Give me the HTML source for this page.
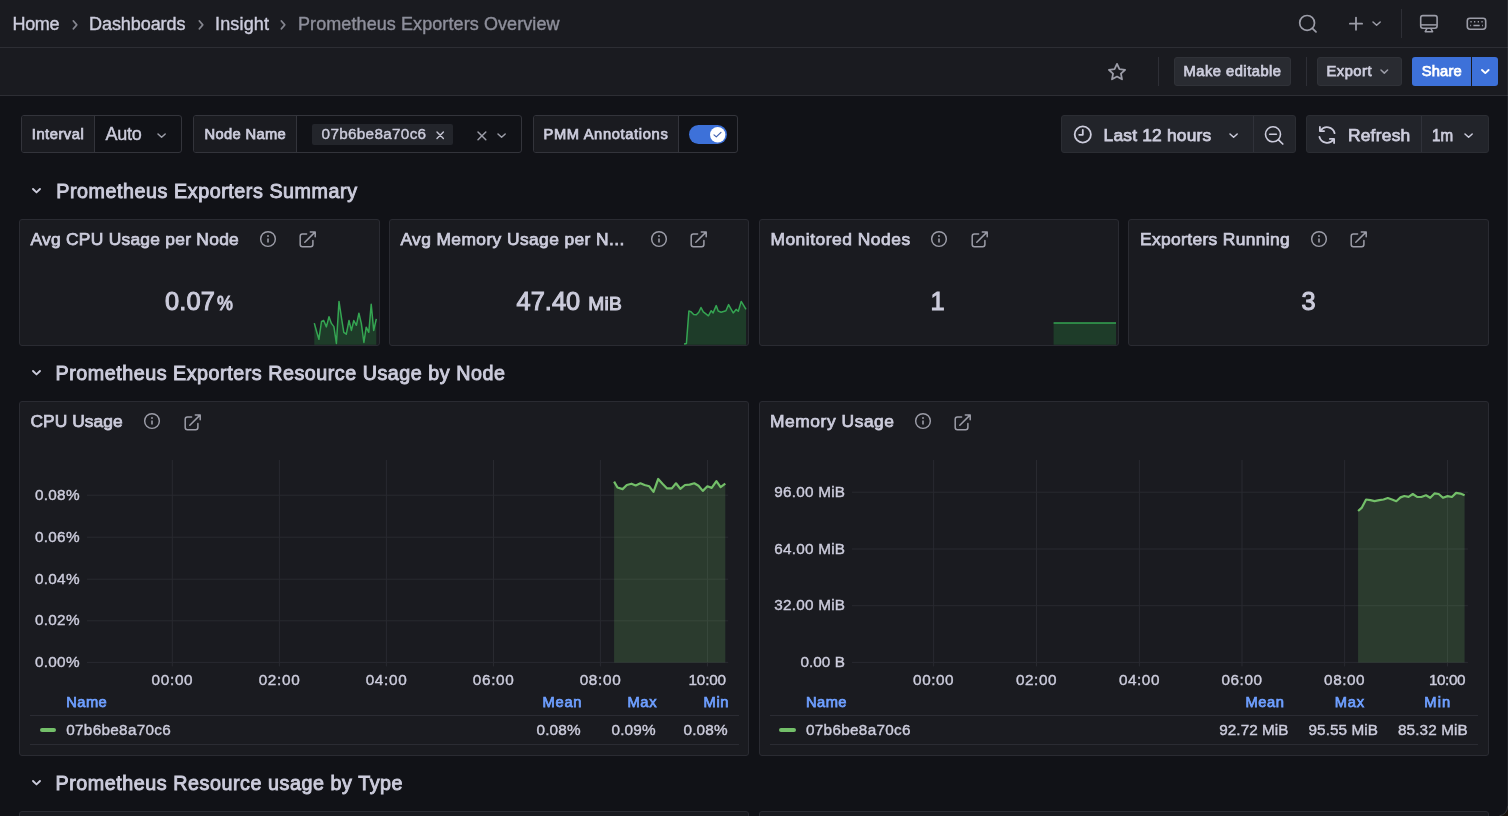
<!DOCTYPE html><html lang="en"><head><meta charset="utf-8"><title>Prometheus Exporters Overview - Dashboards - Grafana</title>
<style>
*{box-sizing:border-box;margin:0;padding:0}
html,body{width:1508px;height:816px;overflow:hidden;background:#111217}
body{position:relative;font-family:"Liberation Sans",sans-serif;color:#ccccdc;will-change:transform}
.abs,.t,svg{position:absolute}
.t{white-space:nowrap;line-height:1;display:block;-webkit-text-stroke:0.4px currentColor}
.m{-webkit-text-stroke:0.75px currentColor}
.s{-webkit-text-stroke:1px currentColor}
.bar{left:0;width:1508px;background:#1a1b20;border-bottom:1px solid #2d2e34}
.vdiv{width:1px;background:#2e2f36}
.btn{border-radius:3px;background:#292b31;border:1px solid #303238}
.box{border:1px solid #33343b;border-radius:3px;background:#111217}
.lbl{background:#1a1b20;border-right:1px solid #33343b;border-radius:2px 0 0 2px}
.panel{background:#1a1b20;border:1px solid #2a2b32;border-radius:3px}
.tool{background:#22242a;border:1px solid #2b2d33;border-radius:3px}
.hl{height:1px;background:#2b2c33}
svg{overflow:visible}
</style></head><body>
<header class="abs bar" style="top:0;height:48px"></header>
<div class="abs bar" style="top:48px;height:48px"></div>
<nav aria-label="Breadcrumbs">
<span id="bc1" class="t" style="left:12.50px;top:15px;font-size:18px;letter-spacing:-0.339px;">Home</span>
<span id="bc2" class="t" style="left:89.00px;top:15px;font-size:18px;letter-spacing:-0.062px;">Dashboards</span>
<span id="bc3" class="t" style="left:215.00px;top:15px;font-size:18px;letter-spacing:0.159px;">Insight</span>
<span id="bc4" class="t" style="left:298.00px;top:15px;font-size:18px;letter-spacing:0.086px;color:#8e8f9b;">Prometheus Exporters Overview</span>
<svg style="left:70.5px;top:19px" width="8" height="11" viewBox="0 0 8 11"><path d="M2.3 1.9 L5.8 5.9 L2.3 9.9" fill="none" stroke="#85868f" stroke-width="1.6" stroke-linecap="round" stroke-linejoin="round"/></svg>
<svg style="left:196.5px;top:19px" width="8" height="11" viewBox="0 0 8 11"><path d="M2.3 1.9 L5.8 5.9 L2.3 9.9" fill="none" stroke="#85868f" stroke-width="1.6" stroke-linecap="round" stroke-linejoin="round"/></svg>
<svg style="left:279.2px;top:19px" width="8" height="11" viewBox="0 0 8 11"><path d="M2.3 1.9 L5.8 5.9 L2.3 9.9" fill="none" stroke="#85868f" stroke-width="1.6" stroke-linecap="round" stroke-linejoin="round"/></svg>
</nav>
<svg style="left:1297px;top:13px" width="22" height="22" viewBox="0 0 22 22"><circle cx="10.1" cy="9.9" r="7.4" fill="none" stroke="#9c9da8" stroke-width="1.7"/><path d="M15.4 15.3 L19.0 18.8" stroke="#9c9da8" stroke-width="1.8" stroke-linecap="round"/></svg>
<svg style="left:1347px;top:14px" width="18" height="18" viewBox="0 0 18 18"><path d="M9 3.6 V15.8 M2.9 9.7 H15.1" stroke="#9c9da8" stroke-width="1.8" stroke-linecap="round"/></svg>
<svg style="left:1372.00px;top:20.95px" width="9.2" height="5.3" viewBox="-1 -1 9.2 5.3"><path d="M0 0 L3.6 3.3 L7.2 0" fill="none" stroke="#9c9da8" stroke-width="1.5" stroke-linecap="round" stroke-linejoin="round"/></svg>
<div class="abs vdiv" style="left:1401px;top:9px;height:29px"></div>
<svg style="left:1418px;top:13px" width="22" height="22" viewBox="0 0 22 22"><rect x="2.7" y="2.6" width="16.4" height="12.6" rx="2.2" fill="none" stroke="#9c9da8" stroke-width="1.6"/><path d="M3 11.9 H18.8" stroke="#9c9da8" stroke-width="1.5"/><path d="M8.9 15.6 L7.2 18.7 H14.6 L12.9 15.6" fill="none" stroke="#9c9da8" stroke-width="1.5" stroke-linejoin="round" stroke-linecap="round"/></svg>
<svg style="left:1465px;top:15px" width="24" height="18" viewBox="0 0 24 18"><rect x="2.3" y="3.2" width="18.4" height="11" rx="2.6" fill="none" stroke="#9c9da8" stroke-width="1.6"/><path d="M5.4 6.7 h1.3 M9 6.7 h1.3 M12.7 6.7 h1.3 M16.4 6.7 h1.3 M5.2 10.5 h0.9 M8.4 10.5 h6.3 M17 10.5 h0.9" stroke="#9c9da8" stroke-width="1.5"/></svg>
<svg style="left:1106px;top:61px" width="22" height="22" viewBox="0 0 22 22"><path d="M11 2.9 L13.45 8.1 L19.1 8.8 L14.95 12.7 L16.0 18.3 L11 15.55 L6.0 18.3 L7.05 12.7 L2.9 8.8 L8.55 8.1 Z" fill="none" stroke="#9c9da8" stroke-width="1.8" stroke-linejoin="round"/></svg>
<div class="abs vdiv" style="left:1158px;top:57px;height:29px"></div>
<div class="abs btn" style="left:1174px;top:57px;width:117px;height:29px"></div>
<span id="b1" class="t m" style="left:1183.50px;top:64px;font-size:14.7px;letter-spacing:0.504px;">Make editable</span>
<div class="abs vdiv" style="left:1305.5px;top:57px;height:29px"></div>
<div class="abs btn" style="left:1316.5px;top:57px;width:85.5px;height:29px"></div>
<span id="b2" class="t m" style="left:1326.50px;top:64px;font-size:14.7px;letter-spacing:0.509px;">Export</span>
<svg style="left:1380.20px;top:69.05px" width="8.6" height="5.1" viewBox="-1 -1 8.6 5.1"><path d="M0 0 L3.3 3.1 L6.6 0" fill="none" stroke="#9c9da8" stroke-width="1.5" stroke-linecap="round" stroke-linejoin="round"/></svg>
<div class="abs" style="left:1411.75px;top:57px;width:59px;height:29px;background:#3d71d9;border-radius:3px 0 0 3px"></div>
<div class="abs" style="left:1471.5px;top:57px;width:26.5px;height:29px;background:#3d71d9;border-radius:0 3px 3px 0"></div>
<span id="b3" class="t m" style="left:1421.75px;top:64px;font-size:14.7px;letter-spacing:0.199px;color:#ffffff;">Share</span>
<svg style="left:1480.70px;top:69.05px" width="8.6" height="5.1" viewBox="-1 -1 8.6 5.1"><path d="M0 0 L3.3 3.1 L6.6 0" fill="none" stroke="#ffffff" stroke-width="1.9" stroke-linecap="round" stroke-linejoin="round"/></svg>
<div class="abs box" style="left:21px;top:115px;width:161px;height:38px"><div class="abs lbl" style="left:0;top:0;width:73px;height:36px"></div></div>
<span id="v1" class="t m" style="left:31.75px;top:127px;font-size:14.7px;letter-spacing:0.547px;">Interval</span>
<span id="v2" class="t" style="left:105.50px;top:125px;font-size:18px;letter-spacing:-0.260px;">Auto</span>
<svg style="left:156.90px;top:132.95px" width="9.2" height="5.3" viewBox="-1 -1 9.2 5.3"><path d="M0 0 L3.6 3.3 L7.2 0" fill="none" stroke="#9c9da8" stroke-width="1.5" stroke-linecap="round" stroke-linejoin="round"/></svg>
<div class="abs box" style="left:193px;top:115px;width:328.5px;height:38px"><div class="abs lbl" style="left:0;top:0;width:103px;height:36px"></div></div>
<span id="v3" class="t m" style="left:204.50px;top:127px;font-size:14.7px;letter-spacing:0.359px;">Node Name</span>
<div class="abs" style="left:312px;top:124px;width:141px;height:21px;background:#23252b;border-radius:2px"></div>
<span id="v4" class="t" style="left:321.60px;top:126px;font-size:15.3px;letter-spacing:0.297px;">07b6be8a70c6</span>
<svg style="left:435.90px;top:130.80px" width="8.4" height="8.4" viewBox="-4.2 -4.2 8.4 8.4"><path d="M-3.2 -3.2 L3.2 3.2 M3.2 -3.2 L-3.2 3.2" stroke="#c4c4d2" stroke-width="1.4" stroke-linecap="round"/></svg>
<svg style="left:477.00px;top:131.00px" width="9.8" height="9.8" viewBox="-4.9 -4.9 9.8 9.8"><path d="M-3.9 -3.9 L3.9 3.9 M3.9 -3.9 L-3.9 3.9" stroke="#9c9da8" stroke-width="1.5" stroke-linecap="round"/></svg>
<svg style="left:496.90px;top:133.05px" width="9.2" height="5.3" viewBox="-1 -1 9.2 5.3"><path d="M0 0 L3.6 3.3 L7.2 0" fill="none" stroke="#9c9da8" stroke-width="1.5" stroke-linecap="round" stroke-linejoin="round"/></svg>
<div class="abs box" style="left:532.5px;top:115px;width:205px;height:38px"><div class="abs lbl" style="left:0;top:0;width:145px;height:36px"></div></div>
<span id="v5" class="t m" style="left:543.50px;top:127px;font-size:14.7px;letter-spacing:0.652px;">PMM Annotations</span>
<div class="abs" role="switch" aria-checked="true" style="left:688.8px;top:124.8px;width:38.2px;height:19.6px;border-radius:10px;background:#3d71d9"></div>
<svg style="left:709.8px;top:127px" width="15.4" height="15.4" viewBox="0 0 15.4 15.4"><circle cx="7.7" cy="7.7" r="7.7" fill="#ffffff"/><path d="M4.0 7.9 L6.3 9.9 L11.0 5.4" fill="none" stroke="#3f5fb0" stroke-width="1.2" stroke-linecap="round" stroke-linejoin="round"/></svg>
<div class="abs tool" style="left:1061px;top:115px;width:235px;height:38px"><div class="abs" style="left:191px;top:0;width:1px;height:36px;background:#30323a"></div></div>
<svg style="left:1072px;top:124px" width="22" height="22" viewBox="0 0 22 22"><circle cx="10.8" cy="10.5" r="8.1" fill="none" stroke="#ccccdc" stroke-width="1.8"/><path d="M10.8 5.9 V10.8 H7.2" fill="none" stroke="#ccccdc" stroke-width="1.8" stroke-linecap="round" stroke-linejoin="round"/></svg>
<span id="tp1" class="t m" style="left:1103.60px;top:127px;font-size:17.4px;letter-spacing:0.192px;">Last 12 hours</span>
<svg style="left:1229.00px;top:133.25px" width="9.2" height="5.3" viewBox="-1 -1 9.2 5.3"><path d="M0 0 L3.6 3.3 L7.2 0" fill="none" stroke="#ccccdc" stroke-width="1.5" stroke-linecap="round" stroke-linejoin="round"/></svg>
<svg style="left:1263px;top:123.5px" width="22" height="22" viewBox="0 0 22 22"><circle cx="10" cy="10.3" r="7.5" fill="none" stroke="#ccccdc" stroke-width="1.6"/><path d="M6.6 10.3 H13.4" stroke="#ccccdc" stroke-width="1.6" stroke-linecap="round"/><path d="M15.5 15.8 L19.8 20" stroke="#ccccdc" stroke-width="1.7" stroke-linecap="round"/></svg>
<div class="abs tool" style="left:1306px;top:115px;width:182.5px;height:38px"><div class="abs" style="left:113.5px;top:0;width:1px;height:36px;background:#30323a"></div></div>
<svg style="left:1316px;top:123.5px" width="22" height="22" viewBox="0 0 22 22" fill="none" stroke="#ccccdc" stroke-width="1.8" stroke-linecap="round" stroke-linejoin="round"><path d="M18.6 9.2 A7.8 7.8 0 0 0 4.6 6.6"/><path d="M3.9 2.9 V7.1 H8.1"/><path d="M3.4 12.8 A7.8 7.8 0 0 0 17.4 15.4"/><path d="M18.1 19.1 V14.9 H13.9"/></svg>
<span id="tp2" class="t m" style="left:1347.90px;top:127px;font-size:17.4px;letter-spacing:0.249px;">Refresh</span>
<span id="tp3" class="t m" style="left:1431.70px;top:127px;font-size:17.4px;transform:scaleX(0.8729);transform-origin:0 0;">1m</span>
<svg style="left:1463.70px;top:133.25px" width="9.2" height="5.3" viewBox="-1 -1 9.2 5.3"><path d="M0 0 L3.6 3.3 L7.2 0" fill="none" stroke="#ccccdc" stroke-width="1.5" stroke-linecap="round" stroke-linejoin="round"/></svg>
<svg style="left:31.80px;top:188.30px" width="9.0" height="5.4" viewBox="-1 -1 9.0 5.4"><path d="M0 0 L3.5 3.4 L7.0 0" fill="none" stroke="#ccccdc" stroke-width="1.9" stroke-linecap="round" stroke-linejoin="round"/></svg><span id="r1" class="t m" style="left:56.25px;top:182px;font-size:19.7px;letter-spacing:0.562px;-webkit-text-stroke-width:0.9px;">Prometheus Exporters Summary</span>
<section class="abs panel" style="left:19px;top:218.5px;width:360.5px;height:127.5px"></section><span id="p1" class="t m" style="left:30.50px;top:231px;font-size:17.4px;letter-spacing:0.265px;">Avg CPU Usage per Node</span><svg style="left:259.00px;top:229.80px" width="18" height="18" viewBox="-9 -9 18 18"><circle r="7.35" fill="none" stroke="#9c9da8" stroke-width="1.45"/><path d="M0 -0.5 V3.6" stroke="#9c9da8" stroke-width="1.6" stroke-linecap="butt"/><circle cy="-3" r="0.95" fill="#9c9da8"/></svg><svg style="left:299.10px;top:231.00px" width="18" height="18" viewBox="0 0 18 18" fill="none" stroke="#9c9da8" stroke-width="1.5" stroke-linecap="round" stroke-linejoin="round"><path d="M7.6 3.1 H3.4 Q1.2 3.1 1.2 5.3 V13.6 Q1.2 15.8 3.4 15.8 H11.7 Q13.9 15.8 13.9 13.6 V9.6"/><path d="M5.8 11.2 L16 1.1 M11.3 0.9 H16.2 V5.8"/></svg>
<section class="abs panel" style="left:389px;top:218.5px;width:360.3px;height:127.5px"></section><span id="p2" class="t m" style="left:400.40px;top:231px;font-size:17.4px;letter-spacing:0.402px;">Avg Memory Usage per N...</span><svg style="left:649.90px;top:229.80px" width="18" height="18" viewBox="-9 -9 18 18"><circle r="7.35" fill="none" stroke="#9c9da8" stroke-width="1.45"/><path d="M0 -0.5 V3.6" stroke="#9c9da8" stroke-width="1.6" stroke-linecap="butt"/><circle cy="-3" r="0.95" fill="#9c9da8"/></svg><svg style="left:690.20px;top:231.00px" width="18" height="18" viewBox="0 0 18 18" fill="none" stroke="#9c9da8" stroke-width="1.5" stroke-linecap="round" stroke-linejoin="round"><path d="M7.6 3.1 H3.4 Q1.2 3.1 1.2 5.3 V13.6 Q1.2 15.8 3.4 15.8 H11.7 Q13.9 15.8 13.9 13.6 V9.6"/><path d="M5.8 11.2 L16 1.1 M11.3 0.9 H16.2 V5.8"/></svg>
<section class="abs panel" style="left:759px;top:218.5px;width:359.8px;height:127.5px"></section><span id="p3" class="t m" style="left:770.40px;top:231px;font-size:17.4px;letter-spacing:0.519px;">Monitored Nodes</span><svg style="left:930.00px;top:229.80px" width="18" height="18" viewBox="-9 -9 18 18"><circle r="7.35" fill="none" stroke="#9c9da8" stroke-width="1.45"/><path d="M0 -0.5 V3.6" stroke="#9c9da8" stroke-width="1.6" stroke-linecap="butt"/><circle cy="-3" r="0.95" fill="#9c9da8"/></svg><svg style="left:970.90px;top:231.00px" width="18" height="18" viewBox="0 0 18 18" fill="none" stroke="#9c9da8" stroke-width="1.5" stroke-linecap="round" stroke-linejoin="round"><path d="M7.6 3.1 H3.4 Q1.2 3.1 1.2 5.3 V13.6 Q1.2 15.8 3.4 15.8 H11.7 Q13.9 15.8 13.9 13.6 V9.6"/><path d="M5.8 11.2 L16 1.1 M11.3 0.9 H16.2 V5.8"/></svg>
<section class="abs panel" style="left:1128px;top:218.5px;width:360.7px;height:127.5px"></section><span id="p4" class="t m" style="left:1140.00px;top:231px;font-size:17.4px;letter-spacing:0.360px;">Exporters Running</span><svg style="left:1310.00px;top:229.80px" width="18" height="18" viewBox="-9 -9 18 18"><circle r="7.35" fill="none" stroke="#9c9da8" stroke-width="1.45"/><path d="M0 -0.5 V3.6" stroke="#9c9da8" stroke-width="1.6" stroke-linecap="butt"/><circle cy="-3" r="0.95" fill="#9c9da8"/></svg><svg style="left:1350.10px;top:231.00px" width="18" height="18" viewBox="0 0 18 18" fill="none" stroke="#9c9da8" stroke-width="1.5" stroke-linecap="round" stroke-linejoin="round"><path d="M7.6 3.1 H3.4 Q1.2 3.1 1.2 5.3 V13.6 Q1.2 15.8 3.4 15.8 H11.7 Q13.9 15.8 13.9 13.6 V9.6"/><path d="M5.8 11.2 L16 1.1 M11.3 0.9 H16.2 V5.8"/></svg>
<span id="s1" class="t s" style="left:164.90px;top:289px;font-size:25.4px;letter-spacing:0.159px;">0.07</span>
<span id="s1u" class="t s" style="left:217.00px;top:294px;font-size:19.6px;transform:scaleX(0.9118);transform-origin:0 0;">%</span>
<span id="s2" class="t s" style="left:516.60px;top:289px;font-size:25.4px;letter-spacing:0.013px;">47.40</span>
<span id="s2u" class="t s" style="left:588.20px;top:294px;font-size:19.2px;letter-spacing:0.277px;">MiB</span>
<span id="s3" class="t s" style="left:930.60px;top:289px;font-size:25.4px;">1</span>
<span id="s4" class="t s" style="left:1301.40px;top:289px;font-size:25.4px;">3</span>
<svg style="left:0;top:0" width="1508" height="816" viewBox="0 0 1508 816"><path d="M314.3 323.1 L316.6 331.5 L318.9 339.3 L321.5 321.5 L323.7 320.5 L326.4 326.9 L329.0 316.7 L331.4 323.4 L333.9 326.6 L336.4 343.5 L339.0 301.4 L341.5 318.0 L343.8 332.3 L346.3 334.2 L349.0 320.5 L351.4 330.4 L353.8 320.5 L356.4 325.3 L358.9 313.2 L361.3 323.4 L363.9 342.5 L366.2 327.2 L368.8 332.3 L371.2 304.3 L373.7 330.4 L376.3 318.9 L376.3 344.7 L314.3 344.7 Z" fill="rgba(41,156,70,0.26)"/><path d="M314.3 323.1 L316.6 331.5 L318.9 339.3 L321.5 321.5 L323.7 320.5 L326.4 326.9 L329.0 316.7 L331.4 323.4 L333.9 326.6 L336.4 343.5 L339.0 301.4 L341.5 318.0 L343.8 332.3 L346.3 334.2 L349.0 320.5 L351.4 330.4 L353.8 320.5 L356.4 325.3 L358.9 313.2 L361.3 323.4 L363.9 342.5 L366.2 327.2 L368.8 332.3 L371.2 304.3 L373.7 330.4 L376.3 318.9" fill="none" stroke="#35a552" stroke-width="1.5" stroke-linejoin="round"/></svg>
<svg style="left:0;top:0" width="1508" height="816" viewBox="0 0 1508 816"><path d="M684.1 344.1 L686.4 343.5 L688.9 311.0 L690.8 311.6 L693.7 314.5 L696.3 314.8 L698.8 312.3 L701.0 307.5 L703.3 311.9 L705.9 313.9 L708.4 315.8 L711.2 310.7 L713.1 312.9 L716.2 305.6 L718.2 311.0 L721.1 312.3 L723.5 311.5 L725.9 310.7 L728.6 304.6 L730.9 308.8 L733.2 312.9 L736.1 309.4 L738.3 311.3 L741.2 301.4 L743.6 305.4 L746.0 309.4 L746.0 344.7 L684.1 344.7 Z" fill="rgba(41,156,70,0.26)"/><path d="M684.1 344.1 L686.4 343.5 L688.9 311.0 L690.8 311.6 L693.7 314.5 L696.3 314.8 L698.8 312.3 L701.0 307.5 L703.3 311.9 L705.9 313.9 L708.4 315.8 L711.2 310.7 L713.1 312.9 L716.2 305.6 L718.2 311.0 L721.1 312.3 L723.5 311.5 L725.9 310.7 L728.6 304.6 L730.9 308.8 L733.2 312.9 L736.1 309.4 L738.3 311.3 L741.2 301.4 L743.6 305.4 L746.0 309.4" fill="none" stroke="#35a552" stroke-width="1.5" stroke-linejoin="round"/></svg>
<svg style="left:0;top:0" width="1508" height="816" viewBox="0 0 1508 816"><path d="M1053.6 323.0 L1116.0 323.0 L1116.0 344.7 L1053.6 344.7 Z" fill="rgba(41,156,70,0.26)"/><path d="M1053.6 323.0 L1116.0 323.0" fill="none" stroke="#35a552" stroke-width="1.5" stroke-linejoin="round"/></svg>
<svg style="left:31.80px;top:370.30px" width="9.0" height="5.4" viewBox="-1 -1 9.0 5.4"><path d="M0 0 L3.5 3.4 L7.0 0" fill="none" stroke="#ccccdc" stroke-width="1.9" stroke-linecap="round" stroke-linejoin="round"/></svg><span id="r2" class="t m" style="left:55.50px;top:364px;font-size:19.7px;letter-spacing:0.539px;-webkit-text-stroke-width:0.9px;">Prometheus Exporters Resource Usage by Node</span>
<svg style="left:31.80px;top:780.30px" width="9.0" height="5.4" viewBox="-1 -1 9.0 5.4"><path d="M0 0 L3.5 3.4 L7.0 0" fill="none" stroke="#ccccdc" stroke-width="1.9" stroke-linecap="round" stroke-linejoin="round"/></svg><span id="r3" class="t m" style="left:55.50px;top:774px;font-size:19.7px;letter-spacing:0.561px;-webkit-text-stroke-width:0.9px;">Prometheus Resource usage by Type</span>
<section class="abs panel" style="left:19px;top:401px;width:730.3px;height:355px"></section><span id="p5" class="t m" style="left:30.40px;top:413px;font-size:17.4px;letter-spacing:0.071px;">CPU Usage</span><svg style="left:143.00px;top:412.30px" width="18" height="18" viewBox="-9 -9 18 18"><circle r="7.35" fill="none" stroke="#9c9da8" stroke-width="1.45"/><path d="M0 -0.5 V3.6" stroke="#9c9da8" stroke-width="1.6" stroke-linecap="butt"/><circle cy="-3" r="0.95" fill="#9c9da8"/></svg><svg style="left:183.50px;top:413.50px" width="18" height="18" viewBox="0 0 18 18" fill="none" stroke="#9c9da8" stroke-width="1.5" stroke-linecap="round" stroke-linejoin="round"><path d="M7.6 3.1 H3.4 Q1.2 3.1 1.2 5.3 V13.6 Q1.2 15.8 3.4 15.8 H11.7 Q13.9 15.8 13.9 13.6 V9.6"/><path d="M5.8 11.2 L16 1.1 M11.3 0.9 H16.2 V5.8"/></svg>
<section class="abs panel" style="left:759px;top:401px;width:729.7px;height:355px"></section><span id="p6" class="t m" style="left:770.00px;top:413px;font-size:17.4px;letter-spacing:0.554px;">Memory Usage</span><svg style="left:914.30px;top:412.30px" width="18" height="18" viewBox="-9 -9 18 18"><circle r="7.35" fill="none" stroke="#9c9da8" stroke-width="1.45"/><path d="M0 -0.5 V3.6" stroke="#9c9da8" stroke-width="1.6" stroke-linecap="butt"/><circle cy="-3" r="0.95" fill="#9c9da8"/></svg><svg style="left:954.10px;top:413.50px" width="18" height="18" viewBox="0 0 18 18" fill="none" stroke="#9c9da8" stroke-width="1.5" stroke-linecap="round" stroke-linejoin="round"><path d="M7.6 3.1 H3.4 Q1.2 3.1 1.2 5.3 V13.6 Q1.2 15.8 3.4 15.8 H11.7 Q13.9 15.8 13.9 13.6 V9.6"/><path d="M5.8 11.2 L16 1.1 M11.3 0.9 H16.2 V5.8"/></svg>
<svg style="left:0;top:0" width="1508" height="816" viewBox="0 0 1508 816" shape-rendering="auto"><rect x="171.80" y="460" width="1" height="206.4" fill="#292a30"/><rect x="278.90" y="460" width="1" height="206.4" fill="#292a30"/><rect x="385.90" y="460" width="1" height="206.4" fill="#292a30"/><rect x="493.00" y="460" width="1" height="206.4" fill="#292a30"/><rect x="599.90" y="460" width="1" height="206.4" fill="#292a30"/><rect x="707.00" y="460" width="1" height="206.4" fill="#292a30"/><rect x="87" y="494.70" width="641.2" height="1" fill="#292a30"/><rect x="87" y="536.70" width="641.2" height="1" fill="#292a30"/><rect x="87" y="578.70" width="641.2" height="1" fill="#292a30"/><rect x="87" y="620.30" width="641.2" height="1" fill="#292a30"/><rect x="87" y="661.90" width="641.2" height="1" fill="#292a30"/><path d="M614.1 481.6 L617.5 487.5 L622.6 489.1 L626.8 485.0 L631.5 483.7 L635.7 485.4 L640.4 483.3 L644.6 485.0 L649.3 486.3 L653.5 491.8 L658.2 479.0 L662.5 483.7 L667.1 488.4 L671.8 488.4 L676.0 483.3 L680.3 488.8 L685.0 485.0 L689.6 484.6 L694.3 483.3 L698.5 485.8 L702.8 490.9 L707.4 486.3 L711.7 487.9 L716.4 481.2 L720.6 487.1 L725.3 483.7 L725.3 662.4 L614.1 662.4 Z" fill="rgba(115,191,105,0.2)"/><path d="M614.1 481.6 L617.5 487.5 L622.6 489.1 L626.8 485.0 L631.5 483.7 L635.7 485.4 L640.4 483.3 L644.6 485.0 L649.3 486.3 L653.5 491.8 L658.2 479.0 L662.5 483.7 L667.1 488.4 L671.8 488.4 L676.0 483.3 L680.3 488.8 L685.0 485.0 L689.6 484.6 L694.3 483.3 L698.5 485.8 L702.8 490.9 L707.4 486.3 L711.7 487.9 L716.4 481.2 L720.6 487.1 L725.3 483.7" fill="none" stroke="#73bf69" stroke-width="2.2" stroke-linejoin="round" stroke-linecap="butt"/></svg>
<svg style="left:0;top:0" width="1508" height="816" viewBox="0 0 1508 816" shape-rendering="auto"><rect x="933.10" y="460" width="1" height="206.4" fill="#292a30"/><rect x="1036.00" y="460" width="1" height="206.4" fill="#292a30"/><rect x="1138.90" y="460" width="1" height="206.4" fill="#292a30"/><rect x="1241.50" y="460" width="1" height="206.4" fill="#292a30"/><rect x="1344.10" y="460" width="1" height="206.4" fill="#292a30"/><rect x="1447.00" y="460" width="1" height="206.4" fill="#292a30"/><rect x="852" y="491.70" width="615.9" height="1" fill="#292a30"/><rect x="852" y="548.50" width="615.9" height="1" fill="#292a30"/><rect x="852" y="605.20" width="615.9" height="1" fill="#292a30"/><rect x="852" y="661.90" width="615.9" height="1" fill="#292a30"/><path d="M1358.1 511.0 L1361.9 507.6 L1366.1 499.5 L1370.4 500.2 L1374.6 501.1 L1379.3 500.2 L1383.5 499.5 L1387.8 498.0 L1392.0 499.5 L1396.3 501.2 L1400.5 497.4 L1404.3 496.0 L1408.6 496.8 L1412.8 494.0 L1417.1 496.8 L1421.3 497.0 L1426.0 495.3 L1430.2 497.8 L1434.5 493.4 L1438.7 494.0 L1443.0 497.8 L1447.6 496.1 L1451.9 497.0 L1456.1 492.9 L1460.4 493.6 L1464.6 495.3 L1464.6 662.4 L1358.1 662.4 Z" fill="rgba(115,191,105,0.2)"/><path d="M1358.1 511.0 L1361.9 507.6 L1366.1 499.5 L1370.4 500.2 L1374.6 501.1 L1379.3 500.2 L1383.5 499.5 L1387.8 498.0 L1392.0 499.5 L1396.3 501.2 L1400.5 497.4 L1404.3 496.0 L1408.6 496.8 L1412.8 494.0 L1417.1 496.8 L1421.3 497.0 L1426.0 495.3 L1430.2 497.8 L1434.5 493.4 L1438.7 494.0 L1443.0 497.8 L1447.6 496.1 L1451.9 497.0 L1456.1 492.9 L1460.4 493.6 L1464.6 495.3" fill="none" stroke="#73bf69" stroke-width="2.2" stroke-linejoin="round" stroke-linecap="butt"/></svg>
<span id="cy0" class="t" style="left:34.90px;top:487px;font-size:15.3px;letter-spacing:0.306px;">0.08%</span>
<span id="cy1" class="t" style="left:34.90px;top:529px;font-size:15.3px;letter-spacing:0.306px;">0.06%</span>
<span id="cy2" class="t" style="left:34.90px;top:571px;font-size:15.3px;letter-spacing:0.306px;">0.04%</span>
<span id="cy3" class="t" style="left:34.90px;top:612px;font-size:15.3px;letter-spacing:0.306px;">0.02%</span>
<span id="cy4" class="t" style="left:34.90px;top:654px;font-size:15.3px;letter-spacing:0.306px;">0.00%</span>
<span id="cx0" class="t" style="left:151.60px;top:672px;font-size:15.3px;letter-spacing:0.680px;">00:00</span>
<span id="cx1" class="t" style="left:258.70px;top:672px;font-size:15.3px;letter-spacing:0.680px;">02:00</span>
<span id="cx2" class="t" style="left:365.70px;top:672px;font-size:15.3px;letter-spacing:0.680px;">04:00</span>
<span id="cx3" class="t" style="left:472.80px;top:672px;font-size:15.3px;letter-spacing:0.680px;">06:00</span>
<span id="cx4" class="t" style="left:579.70px;top:672px;font-size:15.3px;letter-spacing:0.680px;">08:00</span>
<span id="cx5" class="t" style="left:688.50px;top:672px;font-size:15.3px;letter-spacing:-0.170px;">10:00</span>
<span id="my0" class="t" style="left:774.30px;top:484px;font-size:15.3px;letter-spacing:0.228px;">96.00 MiB</span>
<span id="my1" class="t" style="left:774.30px;top:541px;font-size:15.3px;letter-spacing:0.228px;">64.00 MiB</span>
<span id="my2" class="t" style="left:774.30px;top:597px;font-size:15.3px;letter-spacing:0.228px;">32.00 MiB</span>
<span id="my3" class="t" style="left:800.40px;top:654px;font-size:15.3px;letter-spacing:0.073px;">0.00 B</span>
<span id="mx0" class="t" style="left:913.10px;top:672px;font-size:15.3px;letter-spacing:0.555px;">00:00</span>
<span id="mx1" class="t" style="left:1016.00px;top:672px;font-size:15.3px;letter-spacing:0.555px;">02:00</span>
<span id="mx2" class="t" style="left:1118.90px;top:672px;font-size:15.3px;letter-spacing:0.555px;">04:00</span>
<span id="mx3" class="t" style="left:1221.50px;top:672px;font-size:15.3px;letter-spacing:0.555px;">06:00</span>
<span id="mx4" class="t" style="left:1324.10px;top:672px;font-size:15.3px;letter-spacing:0.555px;">08:00</span>
<span id="mx5" class="t" style="left:1428.90px;top:672px;font-size:15.3px;letter-spacing:-0.395px;">10:00</span>
<div class="abs hl" style="left:30px;top:715px;width:708.5px"></div><div class="abs hl" style="left:30px;top:744px;width:708.5px"></div><span id="lch0" class="t m" style="left:66.25px;top:695px;font-size:14.700000000000001px;letter-spacing:0.438px;color:#6e9fff;">Name</span><div class="abs" style="left:39.6px;top:727.6px;width:16.8px;height:4.8px;border-radius:2.4px;background:#73bf69"></div><span id="lcn" class="t" style="left:66.25px;top:722px;font-size:15.3px;letter-spacing:0.297px;">07b6be8a70c6</span><span id="lch1" class="t m" style="left:542.50px;top:695px;font-size:14.700000000000001px;letter-spacing:0.750px;color:#6e9fff;">Mean</span><span id="lch2" class="t m" style="left:627.50px;top:695px;font-size:14.700000000000001px;letter-spacing:0.625px;color:#6e9fff;">Max</span><span id="lch3" class="t m" style="left:703.50px;top:695px;font-size:14.700000000000001px;letter-spacing:0.664px;color:#6e9fff;">Min</span><span id="lcv0" class="t" style="left:536.50px;top:722px;font-size:15.3px;letter-spacing:0.156px;">0.08%</span><span id="lcv1" class="t" style="left:611.50px;top:722px;font-size:15.3px;letter-spacing:0.156px;">0.09%</span><span id="lcv2" class="t" style="left:683.50px;top:722px;font-size:15.3px;letter-spacing:0.156px;">0.08%</span>
<div class="abs hl" style="left:770px;top:715px;width:708px"></div><div class="abs hl" style="left:770px;top:744px;width:708px"></div><span id="lmh0" class="t m" style="left:806.00px;top:695px;font-size:14.700000000000001px;letter-spacing:0.438px;color:#6e9fff;">Name</span><div class="abs" style="left:779.4px;top:727.6px;width:16.8px;height:4.8px;border-radius:2.4px;background:#73bf69"></div><span id="lmn" class="t" style="left:806.00px;top:722px;font-size:15.3px;letter-spacing:0.297px;">07b6be8a70c6</span><span id="lmh1" class="t m" style="left:1245.50px;top:695px;font-size:14.700000000000001px;letter-spacing:0.583px;color:#6e9fff;">Mean</span><span id="lmh2" class="t m" style="left:1334.75px;top:695px;font-size:14.700000000000001px;letter-spacing:0.750px;color:#6e9fff;">Max</span><span id="lmh3" class="t m" style="left:1424.25px;top:695px;font-size:14.700000000000001px;letter-spacing:1.164px;color:#6e9fff;">Min</span><span id="lmv0" class="t" style="left:1219.25px;top:722px;font-size:15.3px;letter-spacing:0.047px;">92.72 MiB</span><span id="lmv1" class="t" style="left:1308.50px;top:722px;font-size:15.3px;letter-spacing:0.078px;">95.55 MiB</span><span id="lmv2" class="t" style="left:1398.00px;top:722px;font-size:15.3px;letter-spacing:0.109px;">85.32 MiB</span>
<section class="abs panel" style="left:19px;top:811px;width:730.3px;height:40px"></section>
<section class="abs panel" style="left:759px;top:811px;width:729.7px;height:40px"></section>
<div class="abs" style="left:1507px;top:0;width:1px;height:816px;background:rgba(255,255,255,0.07)"></div>
<svg style="left:1498px;top:806px" width="10" height="10" viewBox="0 0 10 10"><path d="M10 0 V10 H0.6 A9.4 9.4 0 0 0 10 0.6 Z" fill="#17110c"/><path d="M9.5 0 V0.8 A8.8 8.8 0 0 1 1.5 9.7" fill="none" stroke="#34353a" stroke-width="1"/></svg>
</body></html>
